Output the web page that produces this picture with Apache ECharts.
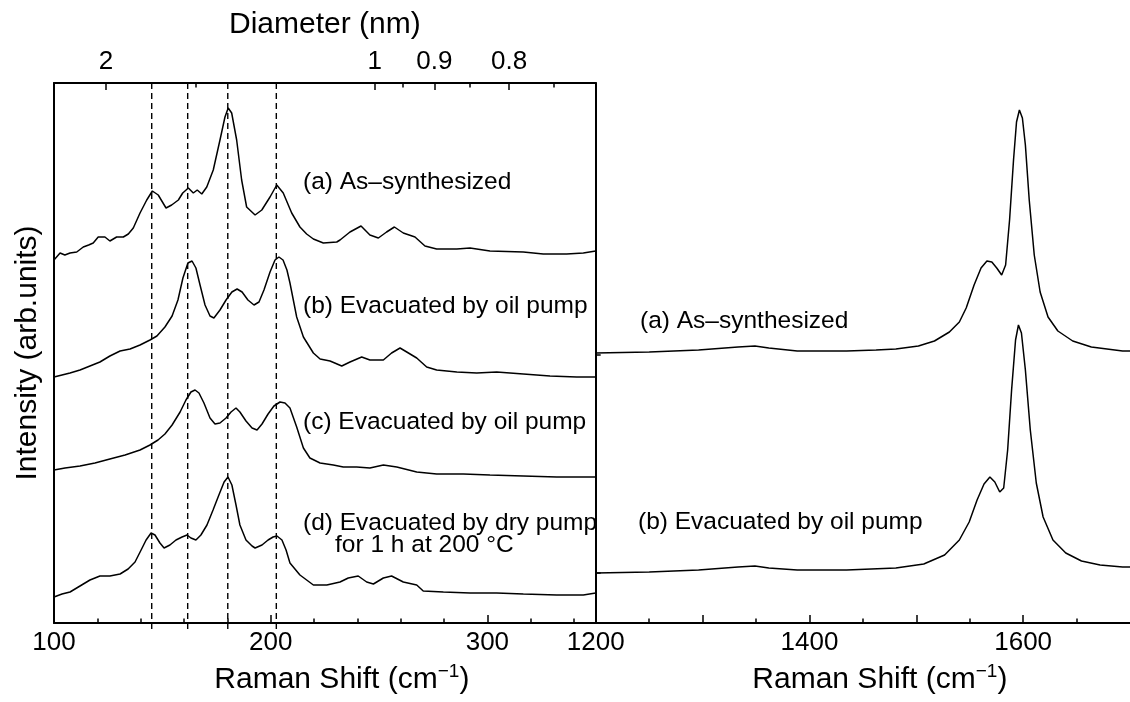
<!DOCTYPE html>
<html><head><meta charset="utf-8">
<script src="https://cdn.jsdelivr.net/npm/echarts@6/dist/echarts.min.js"></script>
<style>html,body{margin:0;padding:0;background:#fff}#c{width:1130px;height:702px}</style>
</head><body><div id="c"></div>
<script>
const FONT = '"Liberation Sans", Arial, Helvetica, sans-serif';

// ---- Left panel (RBM region), Raman shift in cm^-1, intensity in arb. units (offset stacked) ----
const rbmShiftA = [100, 102.8, 105, 107.4, 110.5, 113.5, 116, 118.1, 120.4, 123.5, 125.8, 128.9, 132.0, 134.3, 136.6, 139.7, 142.8, 145.4, 148.1, 151.7, 154.3, 157.4, 159.4, 162.0, 164.3, 166.1, 168.2, 170.5, 173.5, 176.6, 178.9, 180.4, 182.0, 184.3, 186.6, 188.9, 192.8, 195.9, 199.7, 202.8, 205.8, 209.7, 213.5, 216.6, 219.7, 224.3, 230.5, 232.0, 236.6, 241.7, 245.8, 249.7, 253.5, 257.1, 261.2, 266.6, 271.2, 276.6, 285.9, 292.0, 301.2, 316.6, 325.8, 336.6, 344.3, 350];
const rbmIntA = [363, 370, 368, 370, 371, 376, 378, 380, 386, 386, 382, 386, 386, 389, 395, 410, 423, 432, 428, 415, 418, 423, 430, 435, 430, 433, 429, 436, 453, 483, 506, 515, 510, 483, 443, 416, 408, 413, 426, 438, 430, 410, 396, 389, 384, 380, 381, 383, 391, 397, 388, 385, 391, 396, 390, 386, 377, 374, 374, 375, 372, 371, 369, 369, 370, 372];

const rbmShiftB = [100, 103.7, 107.4, 112.0, 116.6, 121.2, 125.8, 130.5, 135.1, 139.7, 144.3, 147.5, 151.2, 154.5, 157.2, 159.5, 161.8, 163.7, 165.5, 167.4, 169.7, 172.0, 173.8, 176.6, 179.4, 182.1, 184.5, 186.8, 189.5, 192.3, 194.6, 196.9, 199.7, 202.0, 203.8, 205.7, 207.5, 208.9, 212.0, 215.1, 219.7, 222.8, 227.4, 232.8, 236.6, 242.0, 245.8, 252.0, 255.8, 259.7, 262.8, 267.4, 272.0, 276.6, 285.9, 295.1, 304.3, 316.6, 328.9, 341.2, 350];
const rbmIntB = [246, 248, 250, 253, 257, 261, 267, 272, 274, 278, 283, 287, 296, 307, 323, 345, 360, 362, 355, 338, 318, 307, 305, 313, 323, 331, 334, 331, 323, 318, 321, 333, 351, 363, 366, 363, 353, 340, 306, 286, 270, 264, 262, 257, 261, 266, 263, 263, 270, 275, 271, 265, 256, 253, 251, 250, 251, 249, 247, 246, 246];

const rbmShiftC = [100, 105.1, 112.0, 118.9, 125.8, 132.8, 139.7, 144.3, 148.0, 151.2, 154.5, 158.2, 160.9, 163.2, 165.1, 166.9, 169.2, 172.0, 174.3, 176.6, 179.4, 181.7, 184.0, 185.8, 188.6, 191.4, 193.7, 196.0, 198.8, 201.5, 204.3, 206.6, 208.9, 212.0, 215.1, 218.1, 222.8, 228.9, 233.5, 239.7, 245.8, 252.0, 258.2, 267.4, 276.6, 288.9, 301.2, 316.6, 332.0, 350];
const rbmIntC = [153, 155, 157, 160, 164, 168, 173, 178, 183, 189, 198, 211, 223, 231, 233, 230, 220, 205, 199, 200, 205, 211, 215, 211, 202, 195, 193, 199, 209, 217, 221, 220, 215, 196, 175, 165, 160, 158, 156, 156, 155, 158, 156, 151, 149, 149, 148, 147, 146, 146];

const rbmShiftD = [100, 103.7, 107.4, 112.0, 116.6, 121.2, 125.8, 130.5, 134.2, 137.4, 140.2, 142.5, 144.8, 146.6, 148.9, 150.8, 153.5, 156.3, 159.1, 161.4, 163.2, 165.5, 167.8, 170.6, 173.4, 176.1, 178.5, 180.3, 182.1, 184.0, 185.8, 188.6, 191.4, 192.8, 196.0, 198.8, 201.1, 202.9, 205.2, 207.1, 208.9, 213.5, 219.7, 225.9, 232.0, 235.8, 240.4, 244.3, 247.4, 252.0, 255.8, 261.2, 267.4, 270.4, 279.7, 292.0, 304.3, 316.6, 332.0, 344.3, 350];
const rbmIntD = [26, 29, 31, 37, 43, 47, 47, 49, 54, 61, 73, 83, 90, 88, 80, 75, 78, 83, 86, 88, 85, 83, 88, 98, 113, 128, 141, 146, 138, 118, 98, 83, 77, 75, 78, 83, 86, 87, 83, 73, 60, 48, 38, 38, 41, 45, 47, 41, 39, 45, 47, 41, 38, 32, 31, 30, 30, 29, 28, 28, 30];

const dashedShifts = [145.1, 161.7, 180.2, 202.6];

const leftMajorTicks = [100, 200, 300];
const leftLabelTicks = [100, 200, 300];
const leftMinorTicks = [120, 140, 160, 180, 220, 240, 260, 280, 320, 340];

// Top axis: tube diameter d (nm), omega = RBM_CONST / d
const RBM_CONST = 248;
const diameterMajor = [2, 1, 0.9, 0.8];
const diameterLabels = ['2', '1', '0.9', '0.8'];
const diameterMinor = [1.5, 0.95, 0.85, 0.75];

// ---- Right panel (D and G bands) ----
const gShiftA = [1200, 1250.1, 1296.3, 1333.2, 1349, 1362, 1388.6, 1434.8, 1462.4, 1480.9, 1502, 1517, 1531, 1540.3, 1546.7, 1554.1, 1560.6, 1566.1, 1570.7, 1575.3, 1579.9, 1583.6, 1587.3, 1591, 1593.8, 1596.5, 1599.3, 1602.1, 1605.7, 1610.4, 1615.9, 1623.3, 1632.5, 1646.4, 1663.8, 1693.1, 1700];
const gIntA = [270, 271, 273, 276, 277, 275, 272, 272, 273, 274, 277, 282, 291, 301, 315, 338, 355, 362, 361, 355, 348, 358, 403, 463, 501, 513, 505, 478, 423, 368, 331, 306, 292, 282, 276, 272, 272];

const gShiftB = [1200, 1250.1, 1296.3, 1333.2, 1349, 1362, 1388.6, 1434.8, 1480.9, 1507, 1526.5, 1540.3, 1549.5, 1556.9, 1563.4, 1568.9, 1573.5, 1578.1, 1581.8, 1585.5, 1589.2, 1592.9, 1595.6, 1598.4, 1602.1, 1606.7, 1612.3, 1618.7, 1627.9, 1639.9, 1654.6, 1672, 1693.1, 1700];
const gIntB = [50, 51, 53, 56, 57, 55, 53, 53, 55, 59, 68, 83, 101, 123, 139, 146, 141, 131, 135, 173, 233, 283, 298, 290, 253, 193, 140, 106, 83, 70, 62, 58, 56, 56];

const rightLabelTicks = [1200, 1400, 1600];
const rightMajorTicks = [1300, 1400, 1500, 1600];
const rightMinorTicks = [1250, 1350, 1450, 1550, 1650];
const rightZeroLevels = [50, 268];

const leftNotes = ['(a) As–synthesized', '(b) Evacuated by oil pump', '(c) Evacuated by oil pump', '(d) Evacuated by dry pump', 'for 1 h at 200 °C'];
const rightNotes = ['(a) As–synthesized', '(b) Evacuated by oil pump'];

const Y_MIN = 0, Y_MAX = 540;

function zip(xs, ys) { return xs.map((x, i) => [x, ys[i]]); }

const chart = echarts.init(document.getElementById('c'), null, { renderer: 'canvas' });

const black = '#000';
const axisLine = { onZero: false, lineStyle: { color: black, width: 2 } };
const noLine = { show: false, onZero: false };
const tickStyle = { color: black, width: 1.5 };
const labelStyle = { fontSize: 26, color: black, fontFamily: FONT, formatter: v => String(v) };
const ramanName = '{t|Raman Shift (cm}{s|−1}{t|)}';
const ramanNameStyle = {
  padding: [0, 0, 0, 34],
  rich: {
    t: { fontSize: 30, fontFamily: FONT, color: black, lineHeight: 36 },
    s: { fontSize: 19, fontFamily: FONT, color: black, lineHeight: 20, verticalAlign: 'top' }
  }
};

const diamOmegaMajor = diameterMajor.map(d => RBM_CONST / d);
const diamOmegaMinor = diameterMinor.map(d => RBM_CONST / d);

const lineSeries = (xs, ys, xi, yi) => ({
  type: 'line', xAxisIndex: xi, yAxisIndex: yi, data: zip(xs, ys),
  showSymbol: false, symbol: 'none', silent: true,
  lineStyle: { color: black, width: 1.5 }, z: 3
});

const noteStyle = { fontSize: 24.5, fontFamily: FONT, fill: black, verticalAlign: 'middle' };

chart.setOption({
  animation: false,
  backgroundColor: '#fff',
  grid: [
    { left: 54, top: 83, width: 541.7, height: 540 },
    { left: 595.7, top: 83, width: 541.7, height: 540 }
  ],
  xAxis: [
    { gridIndex: 0, type: 'value', position: 'bottom', min: 100, max: 350,
      axisLine: axisLine,
      axisTick: { inside: true, length: 8, customValues: leftMajorTicks, lineStyle: tickStyle },
      axisLabel: Object.assign({}, labelStyle, { customValues: leftLabelTicks, margin: 7 }),
      splitLine: { show: false },
      name: ramanName, nameLocation: 'middle', nameGap: 39, nameTextStyle: ramanNameStyle },
    { gridIndex: 0, type: 'value', position: 'bottom', min: 100, max: 350,
      axisLine: noLine,
      axisTick: { inside: true, length: 4.5, customValues: leftMinorTicks, lineStyle: tickStyle },
      axisLabel: { show: false }, splitLine: { show: false } },
    { gridIndex: 0, type: 'value', position: 'top', min: 100, max: 350,
      axisLine: axisLine,
      axisTick: { inside: true, length: 7, customValues: diamOmegaMajor, lineStyle: tickStyle },
      axisLabel: Object.assign({}, labelStyle, { customValues: diamOmegaMajor, margin: 8,
        formatter: v => { const i = diamOmegaMajor.findIndex(t => Math.abs(t - v) < 1e-6); return i >= 0 ? diameterLabels[i] : ''; } }),
      splitLine: { show: false },
      name: 'Diameter (nm)', nameLocation: 'middle', nameGap: 43,
      nameTextStyle: { fontSize: 30, fontFamily: FONT, color: black } },
    { gridIndex: 0, type: 'value', position: 'top', min: 100, max: 350,
      axisLine: noLine,
      axisTick: { inside: true, length: 4.5, customValues: diamOmegaMinor, lineStyle: tickStyle },
      axisLabel: { show: false }, splitLine: { show: false } },
    { gridIndex: 1, type: 'value', position: 'bottom', min: 1200, max: 1700,
      axisLine: axisLine,
      axisTick: { inside: true, length: 8, customValues: rightMajorTicks, lineStyle: tickStyle },
      axisLabel: Object.assign({}, labelStyle, { customValues: rightLabelTicks, margin: 7 }),
      splitLine: { show: false },
      name: ramanName, nameLocation: 'middle', nameGap: 39, nameTextStyle: ramanNameStyle },
    { gridIndex: 1, type: 'value', position: 'bottom', min: 1200, max: 1700,
      axisLine: noLine,
      axisTick: { inside: true, length: 4.5, customValues: rightMinorTicks, lineStyle: tickStyle },
      axisLabel: { show: false }, splitLine: { show: false } }
  ],
  yAxis: [
    { gridIndex: 0, type: 'value', min: Y_MIN, max: Y_MAX, position: 'left',
      axisLine: axisLine, axisTick: { show: false }, axisLabel: { show: false }, splitLine: { show: false },
      name: 'Intensity (arb.units)', nameLocation: 'middle', nameGap: 11,
      nameTextStyle: { fontSize: 30, fontFamily: FONT, color: black } },
    { gridIndex: 1, type: 'value', min: Y_MIN, max: Y_MAX, position: 'left',
      axisLine: axisLine,
      axisTick: { inside: true, length: 5, customValues: rightZeroLevels, lineStyle: tickStyle },
      axisLabel: { show: false }, splitLine: { show: false } }
  ],
  series: [
    lineSeries(rbmShiftA, rbmIntA, 0, 0),
    lineSeries(rbmShiftB, rbmIntB, 0, 0),
    lineSeries(rbmShiftC, rbmIntC, 0, 0),
    lineSeries(rbmShiftD, rbmIntD, 0, 0),
    lineSeries(gShiftA, gIntA, 4, 1),
    lineSeries(gShiftB, gIntB, 4, 1),
    {
      type: 'custom', xAxisIndex: 0, yAxisIndex: 0, clip: false, silent: true, z: 4,
      data: dashedShifts.map(x => [x, 0]),
      encode: { x: 0, y: 1 },
      renderItem: function (params, api) {
        const x = api.value(0);
        const top = api.coord([x, Y_MAX]);
        const bot = api.coord([x, Y_MIN]);
        return { type: 'line', shape: { x1: top[0], y1: top[1], x2: bot[0], y2: bot[1] + 9 },
          style: { stroke: black, lineWidth: 1.4, lineDash: [6, 4] } };
      }
    }
  ],
  graphic: [
    { type: 'text', x: 303, y: 182, z: 50, style: Object.assign({ text: leftNotes[0] }, noteStyle) },
    { type: 'text', x: 303, y: 306, z: 50, style: Object.assign({ text: leftNotes[1] }, noteStyle) },
    { type: 'text', x: 303, y: 422, z: 50, style: Object.assign({ text: leftNotes[2] }, noteStyle) },
    { type: 'text', x: 303, y: 523, z: 50, style: Object.assign({ text: leftNotes[3] }, noteStyle) },
    { type: 'text', x: 335, y: 545, z: 50, style: Object.assign({ text: leftNotes[4] }, noteStyle) },
    { type: 'rect', z: 60, shape: { x: 597, y: 505, width: 14, height: 32 }, style: { fill: '#fff' } },
    { type: 'text', x: 640, y: 321, z: 50, style: Object.assign({ text: rightNotes[0] }, noteStyle) },
    { type: 'text', x: 638, y: 522, z: 50, style: Object.assign({ text: rightNotes[1] }, noteStyle) }
  ]
});
</script>
</body></html>
